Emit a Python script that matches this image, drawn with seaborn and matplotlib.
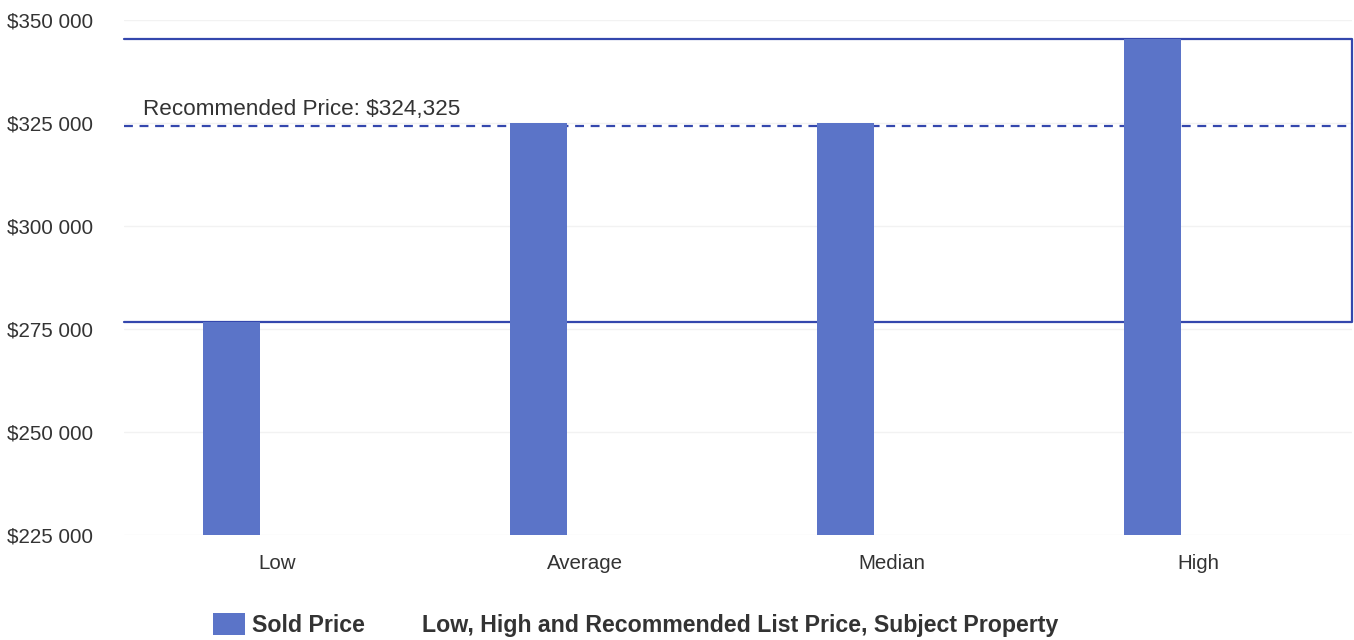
import matplotlib
matplotlib.use("Agg")
import matplotlib.pyplot as plt
import seaborn as sns
import pandas as pd
from matplotlib.patches import Patch
from matplotlib.lines import Line2D
from matplotlib.ticker import FuncFormatter

categories = ["Low", "Average", "Median", "High"]
sold_price = [276700, 324900, 324900, 345500]
list_low = 276700
list_high = 345500
recommended = 324325
y_ticks = [225000, 250000, 275000, 300000, 325000, 350000]

BAR = "#5b74c8"
LINE = "#3447ad"

sns.set_theme(style="white")
plt.rcParams["font.family"] = ["Liberation Sans", "DejaVu Sans"]

fig = plt.figure(figsize=(13.54, 6.4), dpi=100)
ax = fig.add_axes([124/1354, 1-535/640, (1352-124)/1354, (535-20)/640])

df = pd.DataFrame({"cat": categories, "price": sold_price})
sns.barplot(data=df, x="cat", y="price", color=BAR, width=0.186, ax=ax,
            saturation=1, linewidth=0, zorder=5)
for p in ax.patches:
    p.set_x(p.get_x() - 0.15)

ax.set_xlim(-0.5, 3.5)
ax.set_ylim(225000, 350000)
ax.set_yticks(y_ticks)
ax.yaxis.set_major_formatter(FuncFormatter(lambda v, _: "$" + f"{int(v):,}".replace(",", " ")))
ax.grid(axis="y", color="#f2f2f2", linewidth=1, zorder=0)
for s in ax.spines.values():
    s.set_visible(False)
ax.tick_params(axis="y", length=0, pad=22, labelsize=14.8, labelcolor="#333333")
ax.tick_params(axis="x", length=0, pad=14, labelsize=14.8, labelcolor="#333333")
ax.set_xlabel("")
ax.set_ylabel("")

# list price box
ax.plot([-0.5, 3.5, 3.5, -0.5], [list_high, list_high, list_low, list_low],
        color=LINE, linewidth=1.6, zorder=3, clip_on=False)
ax.axhline(recommended, color=LINE, linewidth=1.6, linestyle=(0, (4, 3)), zorder=3)
ax.annotate(f"Recommended Price: ${recommended:,}", xy=(-0.438, recommended),
            xytext=(0, 4.5), textcoords="offset points", fontsize=16.2,
            color="#333333", va="bottom", ha="left", zorder=6)

handles = [Patch(facecolor=BAR, edgecolor="none"),
           Line2D([], [], color="none")]
labels = ["Sold Price", "Low, High and Recommended List Price, Subject Property"]
fig.legend(handles, labels, loc="center left", bbox_to_anchor=(192/1354, 1-625/640),
           ncol=2, frameon=False, prop={"weight": "bold", "size": 16.7},
           handlelength=1.4, handleheight=1.1, columnspacing=0.75, handletextpad=0.3,
           labelcolor="#333333")

fig.savefig("out.png", dpi=100)
